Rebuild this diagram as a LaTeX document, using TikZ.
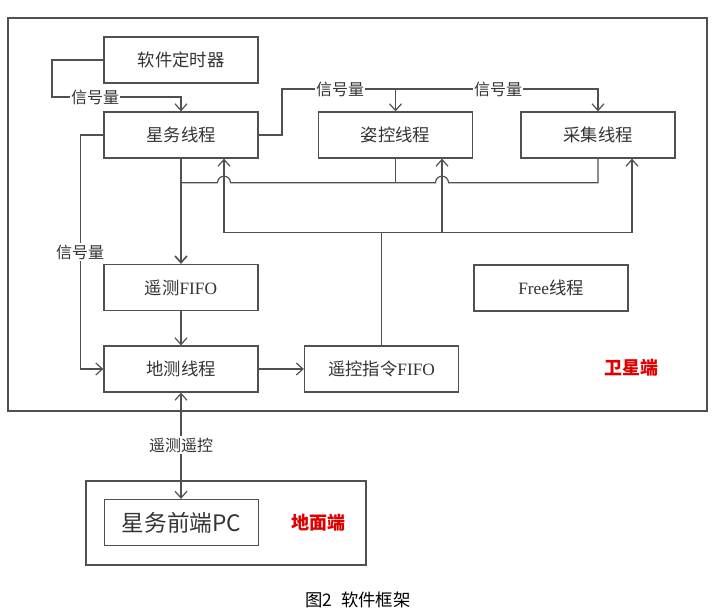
\documentclass[tikz,border=0pt]{standalone}
\usepackage{fontspec}
\setmainfont{Liberation Serif}
\newfontfamily\cjk{Noto Sans CJK SC}
\usetikzlibrary{arrows.meta,positioning,calc}
\definecolor{linegray}{HTML}{505050}
\definecolor{txtgray}{HTML}{333333}
\definecolor{sidered}{HTML}{E00000}

\begin{document}
\begin{tikzpicture}[
  x=0.75pt,y=-0.75pt,
  box/.style={draw=linegray, line width=1pt, minimum width=115.5pt, minimum height=34.5pt, inner sep=0pt, font=\cjk\fontsize{13}{15}\selectfont, text=txtgray},
  lbl/.style={fill=white, inner sep=1pt, font=\cjk\fontsize{12}{14}\selectfont, text=txtgray},
  side/.style={font=\cjk\bfseries\fontsize{13.5}{15}\selectfont, text=sidered},
  line/.style={draw=linegray, line width=0.9pt},
  arr/.style={line, -{Straight Barb[length=5pt,width=9pt]}},
  arrs/.style={line, {Straight Barb[length=5pt,width=9pt]}-{Straight Barb[length=5pt,width=9pt]}}
]
\useasboundingbox (0,0) rectangle (717,614);
% frames
\draw[line, line width=1pt] (8,18) rectangle (707,411);
\draw[line, line width=1pt] (86,481) rectangle (366,565);
% satellite side
\node[box] (timer) at (181,60) {软件定时器};
\node[box] (xw) at (181,135) {星务线程};
\node[box] (zk) at (395.5,135) {姿控线程};
\node[box] (cj) at (598,135) {采集线程};
\node[box] (ycfifo) at (181,287.5) {遥测\textrm{FIFO}};
\node[box] (free) at (551,288) {\textrm{Free}线程};
\node[box] (dc) at (181,369) {地测线程};
\node[box] (ykfifo) at (381.5,369) {遥控指令\textrm{FIFO}};
\node[side] (sat) at (631,368) {卫星端};
% ground side
\node[box, font=\cjk\fontsize{17}{19}\selectfont] (pc) at (181.5,522.5) {星务前端PC};
\node[side] (gnd) at (318,523) {地面端};
% helper points
\coordinate (s1) at (52,97);
\coordinate (s2) at (282,89);
\coordinate (jn) at ($(xw.south)+(0,24)$);
\coordinate (hopA) at ($(xw.south)+(43,24)$);
\coordinate (hopB) at ($(zk.south)+(46.5,24)$);
\coordinate (bus) at ($(ykfifo.north)+(0,-113)$);
% semaphores
\draw[arr] (timer.west) -| (s1) -| (xw.north);
\draw[arr] (xw.east) -| (s2) -| (zk.north);
\draw[arr] (s2) -| (cj.north);
\draw[arr] (xw.west) -- ++(-23,0) |- (dc.west);
% telemetry data
\draw[arr, line width=1.2pt] (xw.south) -- (ycfifo.north);
\draw[line] (zk.south) -- (zk.south |- jn);
\draw[line] (cj.south) |- ($(hopB)+(6.5,0)$) arc[start angle=0,end angle=-180,radius=6.5]
  -- ($(hopA)+(6.5,0)$) arc[start angle=0,end angle=-180,radius=6.5] -- (jn);
\draw[arr] (ycfifo.south) -- (dc.north);
\draw[arr] (dc.east) -- (ykfifo.west);
% telecommands
\draw[line] (ykfifo.north) -- (bus);
\draw[arr] (bus) -| ($(xw.south)+(43,0)$);
\draw[arr] (bus) -| ($(zk.south)+(46.5,0)$);
\draw[arr] (bus) -| ($(cj.south)+(34,0)$);
% ground link
\draw[arrs] (dc.south) -- (dc.south |- pc.north);
% labels
\node[lbl] (sig1) at (95,97) {信号量};
\node[lbl] (sig2) at (340,89) {信号量};
\node[lbl] (sig3) at (498,89) {信号量};
\node[lbl] (sig4) at (80,252) {信号量};
\node[lbl] (link) at (181,445) {遥测遥控};
\node[font=\cjk\fontsize{13}{15}\selectfont, text=black] (cap) at (358,600) {图2\hspace{0.5em}软件框架};
\end{tikzpicture}
\end{document}
